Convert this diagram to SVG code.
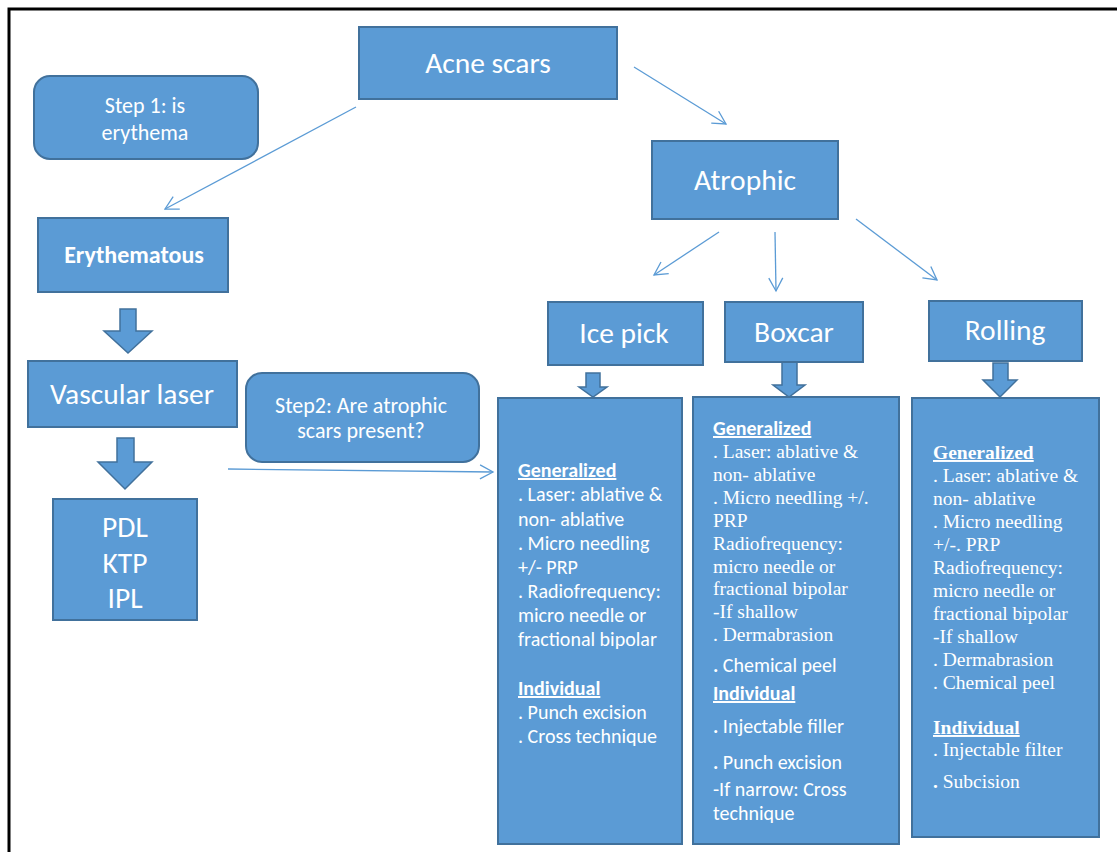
<svg xmlns="http://www.w3.org/2000/svg" width="1117" height="852" viewBox="0 0 1117 852">
<defs>
<style>
.box{fill:#5B9BD5;stroke:#41719C;stroke-width:2}
.blk{fill:#5B9BD5;stroke:#41719C;stroke-width:1.5;stroke-linejoin:miter}
.conn{fill:none;stroke:#5B9BD5;stroke-width:1.3}
.t{fill:#FFFFFF;font-family:Carlito,Lato,"Liberation Sans",sans-serif}
.s{fill:#FFFFFF;font-family:"Liberation Serif","Times New Roman",serif}
.c{text-anchor:middle}
.b{font-weight:bold}
.u{text-decoration:underline}
.big{font-size:29.5px}
.mid{font-size:22px}
.sm{font-size:20px}
.sr{font-size:19.5px}
</style>
<marker id="ah" markerUnits="userSpaceOnUse" markerWidth="16" markerHeight="16" viewBox="0 0 16 16" refX="14" refY="8" orient="auto">
<path d="M1,1 L14,8 L1,15" fill="none" stroke="#5B9BD5" stroke-width="1.3"/>
</marker>
</defs>
<rect width="1117" height="852" fill="#FFFFFF"/>
<path d="M9,852 L9,9 L1117,9" fill="none" stroke="#000000" stroke-width="3"/>

<g id="connectors">
<line class="conn" x1="356" y1="107" x2="165" y2="209" marker-end="url(#ah)"/>
<line class="conn" x1="634" y1="67" x2="726" y2="124" marker-end="url(#ah)"/>
<line class="conn" x1="719" y1="232" x2="654" y2="275" marker-end="url(#ah)"/>
<line class="conn" x1="775" y1="232" x2="776" y2="291" marker-end="url(#ah)"/>
<line class="conn" x1="856" y1="219" x2="937" y2="280" marker-end="url(#ah)"/>
<line class="conn" x1="228" y1="469" x2="493" y2="472" marker-end="url(#ah)"/>
<polygon class="blk" points="120,309 136,309 136,331 152,331 128,353 104,331 120,331"/>
<polygon class="blk" points="117,438 134,438 134,462 152,462 125,489 98,462 117,462"/>
<polygon class="blk" points="586,373 600,373 600,387 607,387 593,397 579,387 586,387"/>
<polygon class="blk" points="782,362 797,362 797,385 805,385 789,397 773,385 782,385"/>
<polygon class="blk" points="993,363 1008,363 1008,380 1017,380 1000,397 983,380 993,380"/>
</g>

<g id="acne-scars">
<rect class="box" x="359" y="27" width="258" height="72"/>
<text class="t c big" x="488" y="73">Acne scars</text>
</g>

<g id="step1">
<rect class="box" x="34" y="76" width="224" height="83" rx="16"/>
<text class="t c mid" x="145" y="113">Step 1: is</text>
<text class="t c mid" x="145" y="140">erythema</text>
</g>

<g id="erythematous">
<rect class="box" x="38" y="218" width="190" height="74"/>
<text class="t c b" x="134" y="263" font-size="24">Erythematous</text>
</g>

<g id="vascular-laser">
<rect class="box" x="28" y="361" width="209" height="66"/>
<text class="t c big" x="132" y="404">Vascular laser</text>
</g>

<g id="pdl-ktp-ipl">
<rect class="box" x="53" y="499" width="144" height="121"/>
<text class="t c big" x="125" y="537">PDL</text>
<text class="t c big" x="125" y="573">KTP</text>
<text class="t c big" x="125" y="608">IPL</text>
</g>

<g id="step2">
<rect class="box" x="246" y="373" width="233" height="89" rx="16"/>
<text class="t c mid" x="361" y="413">Step2: Are atrophic</text>
<text class="t c mid" x="361" y="438">scars present?</text>
</g>

<g id="atrophic">
<rect class="box" x="652" y="141" width="186" height="78"/>
<text class="t c big" x="745" y="190">Atrophic</text>
</g>

<g id="ice-pick">
<rect class="box" x="548" y="302" width="155" height="63"/>
<text class="t c big" x="624" y="343">Ice pick</text>
</g>

<g id="boxcar">
<rect class="box" x="725" y="302" width="138" height="60"/>
<text class="t c big" x="794" y="342">Boxcar</text>
</g>

<g id="rolling">
<rect class="box" x="929" y="301" width="153" height="60"/>
<text class="t c big" x="1005" y="340">Rolling</text>
</g>

<g id="ice-pick-treatments">
<rect class="box" x="498" y="398" width="184" height="446"/>
<text class="t b u sm" x="518" y="477">Generalized</text>
<text class="t sm" x="518" y="501">. Laser: ablative &amp;</text>
<text class="t sm" x="518" y="526">non- ablative</text>
<text class="t sm" x="518" y="550">. Micro needling</text>
<text class="t sm" x="518" y="574">+/- PRP</text>
<text class="t sm" x="518" y="598">. Radiofrequency:</text>
<text class="t sm" x="518" y="622">micro  needle or</text>
<text class="t sm" x="518" y="646">fractional bipolar</text>
<text class="t b u sm" x="518" y="695">Individual</text>
<text class="t sm" x="518" y="719">. Punch excision</text>
<text class="t sm" x="518" y="743">. Cross technique</text>
</g>

<g id="boxcar-treatments">
<rect class="box" x="693" y="397" width="206" height="447"/>
<text class="t b u sm" x="713" y="435">Generalized</text>
<text class="s sr" x="713" y="458">. Laser: ablative &amp;</text>
<text class="s sr" x="713" y="481">non- ablative</text>
<text class="s sr" x="713" y="504">. Micro needling +/.</text>
<text class="s sr" x="713" y="527">PRP</text>
<text class="s sr" x="713" y="550">Radiofrequency:</text>
<text class="s sr" x="713" y="573">micro needle or</text>
<text class="s sr" x="713" y="595">fractional bipolar</text>
<text class="s sr" x="713" y="618">-If shallow</text>
<text class="s sr" x="713" y="641">. Dermabrasion</text>
<text class="t sm" x="713" y="672"><tspan font-weight="bold">.</tspan> Chemical peel</text>
<text class="t b u sm" x="713" y="700">Individual</text>
<text class="t sm" x="713" y="733"><tspan font-weight="bold">.</tspan> Injectable filler</text>
<text class="t sm" x="713" y="769"><tspan font-weight="bold">.</tspan> Punch excision</text>
<text class="t sm" x="713" y="796">-If narrow: Cross</text>
<text class="t sm" x="713" y="820">technique</text>
</g>

<g id="rolling-treatments">
<rect class="box" x="912" y="398" width="187" height="439"/>
<text class="s b u sr" x="933" y="459">Generalized</text>
<text class="s sr" x="933" y="482">. Laser: ablative &amp;</text>
<text class="s sr" x="933" y="505">non- ablative</text>
<text class="s sr" x="933" y="528">. Micro needling</text>
<text class="s sr" x="933" y="551">+/-. PRP</text>
<text class="s sr" x="933" y="574">Radiofrequency:</text>
<text class="s sr" x="933" y="597">micro needle or</text>
<text class="s sr" x="933" y="620">fractional bipolar</text>
<text class="s sr" x="933" y="643">-If shallow</text>
<text class="s sr" x="933" y="666">. Dermabrasion</text>
<text class="s sr" x="933" y="689">. Chemical peel</text>
<text class="s b u sr" x="933" y="734">Individual</text>
<text class="s sr" x="933" y="756">. Injectable filter</text>
<text class="s sr" x="933" y="788"><tspan font-weight="bold">.</tspan> Subcision</text>
</g>
</svg>
